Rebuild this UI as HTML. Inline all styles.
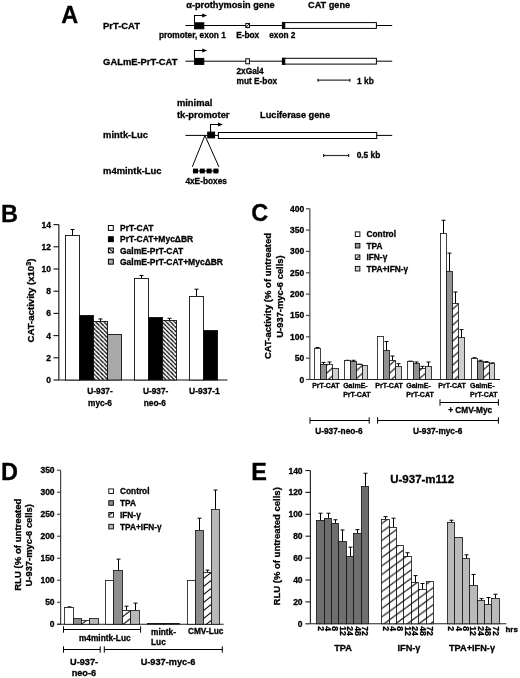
<!DOCTYPE html>
<html><head><meta charset="utf-8"><title>Figure</title>
<style>html,body{margin:0;padding:0;background:#fff;width:520px;height:678px;overflow:hidden}svg{display:block;filter:grayscale(1)}text{fill:#000;stroke:#000;stroke-width:0.3px}</style>
</head><body>
<svg width="520" height="678" viewBox="0 0 520 678" font-family='"Liberation Sans", sans-serif'><defs><pattern id="hb" patternUnits="userSpaceOnUse" x="0" y="2.15" width="4.15" height="4.15"><rect width="4.15" height="4.15" fill="#fff"/><path d="M0 0 L4.15 4.15 M0 -4.15 L4.15 0 M0 4.15 L4.15 8.3" stroke="#000" stroke-width="1.3" fill="none"/></pattern><pattern id="hc" patternUnits="userSpaceOnUse" x="0" y="7.5" width="9.0" height="8.0"><rect width="9.0" height="8.0" fill="#fff"/><path d="M0 8.0 L9.0 0 M0 0 L9.0 -8.0 M0 16.0 L9.0 8.0" stroke="#111" stroke-width="1.15" fill="none"/></pattern><pattern id="hd" patternUnits="userSpaceOnUse" x="0" y="7.0" width="10.4" height="8.0"><rect width="10.4" height="8.0" fill="#fff"/><path d="M0 8.0 L10.4 0 M0 0 L10.4 -8.0 M0 16.0 L10.4 8.0" stroke="#111" stroke-width="1.15" fill="none"/></pattern><pattern id="he" patternUnits="userSpaceOnUse" x="0" y="4.2" width="11.6" height="8.5"><rect width="11.6" height="8.5" fill="#fff"/><path d="M0 8.5 L11.6 0 M0 0 L11.6 -8.5 M0 17.0 L11.6 8.5" stroke="#111" stroke-width="1.2" fill="none"/></pattern></defs><text x="61.2" y="23.2" font-size="23.5" text-anchor="start" font-weight="bold">A</text>
<text x="1.0" y="221.5" font-size="23.5" text-anchor="start" font-weight="bold">B</text>
<text x="251.2" y="221.3" font-size="23.5" text-anchor="start" font-weight="bold">C</text>
<text x="1.0" y="479.8" font-size="23.5" text-anchor="start" font-weight="bold">D</text>
<text x="251.3" y="479.8" font-size="23.5" text-anchor="start" font-weight="bold">E</text>
<text x="103.1" y="29.0" font-size="9.4" text-anchor="start" font-weight="bold">PrT-CAT</text>
<line x1="185.4" y1="25.5" x2="392.2" y2="25.5" stroke="#000" stroke-width="1"/>
<rect x="194.6" y="22.8" width="9.2" height="6.0" fill="#000" stroke="#000" stroke-width="1"/>
<path d="M194.5 22.8 V15.5 H203.2" fill="none" stroke="#000" stroke-width="1.05"/>
<path d="M202.2 13.6 L207.2 15.5 L202.2 17.4 Z" fill="#000"/>
<rect x="245.8" y="23.4" width="3.6" height="4.2" fill="#fff" stroke="#000" stroke-width="1"/>
<line x1="246.0" y1="27.4" x2="249.2" y2="23.6" stroke="#000" stroke-width="0.9"/>
<rect x="282.4" y="22.4" width="2.4" height="6.2" fill="#000" stroke="#000" stroke-width="1"/>
<rect x="284.8" y="22.6" width="91.6" height="5.8" fill="#fff" stroke="#000" stroke-width="1"/>
<text x="186.3" y="8.3" font-size="9.2" text-anchor="start" font-weight="bold">&#945;-prothymosin gene</text>
<text x="308.0" y="8.4" font-size="9.2" text-anchor="start" font-weight="bold">CAT gene</text>
<text x="159.0" y="37.9" font-size="8.3" text-anchor="start" font-weight="bold">promoter, exon 1</text>
<text x="236.2" y="37.9" font-size="8.3" text-anchor="start" font-weight="bold">E-box</text>
<text x="269.2" y="37.9" font-size="8.3" text-anchor="start" font-weight="bold">exon 2</text>
<text x="103.1" y="64.5" font-size="9.4" text-anchor="start" font-weight="bold">GALmE-PrT-CAT</text>
<line x1="185.4" y1="61.2" x2="392.2" y2="61.2" stroke="#000" stroke-width="1"/>
<rect x="194.6" y="58.4" width="9.2" height="6.0" fill="#000" stroke="#000" stroke-width="1"/>
<path d="M194.5 58.4 V50.5 H203.2" fill="none" stroke="#000" stroke-width="1.05"/>
<path d="M202.2 48.6 L207.2 50.5 L202.2 52.4 Z" fill="#000"/>
<rect x="245.8" y="58.8" width="3.6" height="5.0" fill="#fff" stroke="#000" stroke-width="1"/>
<rect x="282.4" y="58.2" width="2.4" height="6.2" fill="#000" stroke="#000" stroke-width="1"/>
<rect x="284.8" y="58.3" width="91.6" height="5.8" fill="#fff" stroke="#000" stroke-width="1"/>
<text x="236.5" y="73.8" font-size="8.3" text-anchor="start" font-weight="bold">2xGal4</text>
<text x="236.5" y="83.7" font-size="8.3" text-anchor="start" font-weight="bold">mut E-box</text>
<line x1="317.8" y1="80.2" x2="350.1" y2="80.2" stroke="#333" stroke-width="1.2"/>
<line x1="318.0" y1="78.8" x2="318.0" y2="81.8" stroke="#000" stroke-width="1"/>
<line x1="349.9" y1="78.8" x2="349.9" y2="81.8" stroke="#000" stroke-width="1"/>
<text x="357.1" y="83.7" font-size="8.3" text-anchor="start" font-weight="bold">1 kb</text>
<text x="103.1" y="138.3" font-size="9.4" text-anchor="start" font-weight="bold">mintk-Luc</text>
<text x="103.1" y="173.8" font-size="9.4" text-anchor="start" font-weight="bold">m4mintk-Luc</text>
<text x="176.9" y="106.2" font-size="9.4" text-anchor="start" font-weight="bold">minimal</text>
<text x="176.9" y="117.7" font-size="9.4" text-anchor="start" font-weight="bold">tk-promoter</text>
<text x="260.1" y="117.9" font-size="9.2" text-anchor="start" font-weight="bold">Luciferase gene</text>
<line x1="185.4" y1="135.4" x2="392.2" y2="135.4" stroke="#000" stroke-width="1"/>
<rect x="207.7" y="132.1" width="6.9" height="5.8" fill="#000" stroke="#000" stroke-width="1"/>
<path d="M210.5 132.1 V124.5 H219.0" fill="none" stroke="#000" stroke-width="1.05"/>
<path d="M218.0 122.6 L223.0 124.5 L218.0 126.4 Z" fill="#000"/>
<rect x="218.4" y="132.5" width="158.3" height="6.0" fill="#fff" stroke="#000" stroke-width="1"/>
<path d="M192.3 166.8 L204.9 135.5 L218.9 166.8" fill="none" stroke="#000" stroke-width="1"/>
<line x1="192.8" y1="171.0" x2="218.9" y2="171.0" stroke="#000" stroke-width="1"/>
<rect x="193.0" y="168.6" width="5.0" height="4.8" fill="#000" stroke="#000" stroke-width="0"/>
<rect x="199.8" y="168.6" width="5.0" height="4.8" fill="#000" stroke="#000" stroke-width="0"/>
<rect x="206.6" y="168.6" width="5.0" height="4.8" fill="#000" stroke="#000" stroke-width="0"/>
<rect x="213.4" y="168.6" width="5.0" height="4.8" fill="#000" stroke="#000" stroke-width="0"/>
<text x="185.4" y="184.2" font-size="8.3" text-anchor="start" font-weight="bold">4xE-boxes</text>
<line x1="323.5" y1="155.5" x2="348.9" y2="155.5" stroke="#333" stroke-width="1.2"/>
<line x1="323.7" y1="154.0" x2="323.7" y2="157.0" stroke="#000" stroke-width="1"/>
<line x1="348.7" y1="154.0" x2="348.7" y2="157.0" stroke="#000" stroke-width="1"/>
<text x="356.7" y="158.3" font-size="8.3" text-anchor="start" font-weight="bold">0.5 kb</text>
<line x1="58.85" y1="224.6" x2="58.85" y2="380.0" stroke="#111" stroke-width="1.1"/>
<line x1="53.45" y1="380.0" x2="58.85" y2="380.0" stroke="#111" stroke-width="1.1"/>
<text x="51.0" y="383.0" font-size="8.5" text-anchor="end" font-weight="bold">0</text>
<line x1="53.45" y1="357.8" x2="58.85" y2="357.8" stroke="#111" stroke-width="1.1"/>
<text x="51.0" y="360.8" font-size="8.5" text-anchor="end" font-weight="bold">2</text>
<line x1="53.45" y1="335.6" x2="58.85" y2="335.6" stroke="#111" stroke-width="1.1"/>
<text x="51.0" y="338.6" font-size="8.5" text-anchor="end" font-weight="bold">4</text>
<line x1="53.45" y1="313.4" x2="58.85" y2="313.4" stroke="#111" stroke-width="1.1"/>
<text x="51.0" y="316.4" font-size="8.5" text-anchor="end" font-weight="bold">6</text>
<line x1="53.45" y1="291.2" x2="58.85" y2="291.2" stroke="#111" stroke-width="1.1"/>
<text x="51.0" y="294.2" font-size="8.5" text-anchor="end" font-weight="bold">8</text>
<line x1="53.45" y1="269.0" x2="58.85" y2="269.0" stroke="#111" stroke-width="1.1"/>
<text x="51.0" y="272.0" font-size="8.5" text-anchor="end" font-weight="bold">10</text>
<line x1="53.45" y1="246.8" x2="58.85" y2="246.8" stroke="#111" stroke-width="1.1"/>
<text x="51.0" y="249.8" font-size="8.5" text-anchor="end" font-weight="bold">12</text>
<line x1="53.45" y1="224.6" x2="58.85" y2="224.6" stroke="#111" stroke-width="1.1"/>
<text x="51.0" y="227.6" font-size="8.5" text-anchor="end" font-weight="bold">14</text>
<line x1="58.85" y1="380.0" x2="227.5" y2="380.0" stroke="#111" stroke-width="1.1"/>
<line x1="72.5" y1="229.484" x2="72.5" y2="235.5" stroke="#000" stroke-width="1.0"/>
<line x1="70.5" y1="229.484" x2="74.5" y2="229.484" stroke="#000" stroke-width="1.0"/>
<rect x="65.5" y="235.5" width="14.0" height="144.5" fill="#fff" stroke="#111" stroke-width="0.9"/>
<rect x="79.5" y="315.5" width="14.0" height="64.5" fill="#000" stroke="#111" stroke-width="0.9"/>
<line x1="100.5" y1="318.95" x2="100.5" y2="321.5" stroke="#000" stroke-width="1.0"/>
<line x1="98.5" y1="318.95" x2="102.5" y2="318.95" stroke="#000" stroke-width="1.0"/>
<rect x="93.5" y="321.5" width="14.0" height="58.5" fill="url(#hb)" stroke="#111" stroke-width="0.9"/>
<rect x="107.5" y="334.5" width="14.0" height="45.5" fill="#a8a8a8" stroke="#111" stroke-width="0.9"/>
<line x1="141.5" y1="275.549" x2="141.5" y2="278.5" stroke="#000" stroke-width="1.0"/>
<line x1="139.5" y1="275.549" x2="143.5" y2="275.549" stroke="#000" stroke-width="1.0"/>
<rect x="134.5" y="278.5" width="14.0" height="101.5" fill="#fff" stroke="#111" stroke-width="0.9"/>
<rect x="148.5" y="317.5" width="14.0" height="62.5" fill="#000" stroke="#111" stroke-width="0.9"/>
<line x1="169.5" y1="318.284" x2="169.5" y2="320.5" stroke="#000" stroke-width="1.0"/>
<line x1="167.5" y1="318.284" x2="171.5" y2="318.284" stroke="#000" stroke-width="1.0"/>
<rect x="162.5" y="320.5" width="14.0" height="59.5" fill="url(#hb)" stroke="#111" stroke-width="0.9"/>
<line x1="196.5" y1="289.202" x2="196.5" y2="296.5" stroke="#000" stroke-width="1.0"/>
<line x1="194.5" y1="289.202" x2="198.5" y2="289.202" stroke="#000" stroke-width="1.0"/>
<rect x="189.5" y="296.5" width="14.0" height="83.5" fill="#fff" stroke="#111" stroke-width="0.9"/>
<rect x="203.5" y="330.5" width="14.0" height="49.5" fill="#000" stroke="#111" stroke-width="0.9"/>
<rect x="108.4" y="225.5" width="4.9" height="4.9" fill="#fff" stroke="#000" stroke-width="1.0"/>
<text x="120.0" y="231.0" font-size="8.5" text-anchor="start" font-weight="bold">PrT-CAT</text>
<rect x="108.4" y="236.75" width="4.9" height="4.9" fill="#000" stroke="#000" stroke-width="1.0"/>
<text x="120.0" y="242.25" font-size="8.5" text-anchor="start" font-weight="bold">PrT-CAT+Myc&#916;BR</text>
<rect x="108.4" y="248.0" width="4.9" height="4.9" fill="url(#hb)" stroke="#000" stroke-width="1.0"/>
<text x="120.0" y="253.5" font-size="8.5" text-anchor="start" font-weight="bold">GalmE-PrT-CAT</text>
<rect x="108.4" y="259.25" width="4.9" height="4.9" fill="#a8a8a8" stroke="#000" stroke-width="1.0"/>
<text x="120.0" y="264.75" font-size="8.5" text-anchor="start" font-weight="bold">GalmE-PrT-CAT+Myc&#916;BR</text>
<text x="100.0" y="394.0" font-size="8.3" text-anchor="middle" font-weight="bold">U-937-</text>
<text x="100.0" y="405.5" font-size="8.3" text-anchor="middle" font-weight="bold">myc-6</text>
<text x="155.6" y="394.0" font-size="8.3" text-anchor="middle" font-weight="bold">U-937-</text>
<text x="154.8" y="405.5" font-size="8.3" text-anchor="middle" font-weight="bold">neo-6</text>
<text x="204.4" y="394.0" font-size="8.5" text-anchor="middle" font-weight="bold">U-937-1</text>
<text x="34.3" y="300.5" font-size="9.6" text-anchor="middle" font-weight="bold" transform="rotate(-90 34.3 300.5)">CAT-activity (x10<tspan dy="-3.3" font-size="7.2">3</tspan><tspan dy="3.3">)</tspan></text>
<line x1="309.85" y1="208.74" x2="309.85" y2="379.5" stroke="#444" stroke-width="1.2"/>
<line x1="306.05" y1="379.5" x2="309.85" y2="379.5" stroke="#444" stroke-width="1.2"/>
<text x="304.2" y="382.5" font-size="8.5" text-anchor="end" font-weight="bold">0</text>
<line x1="306.05" y1="358.155" x2="309.85" y2="358.155" stroke="#444" stroke-width="1.2"/>
<text x="304.2" y="361.155" font-size="8.5" text-anchor="end" font-weight="bold">50</text>
<line x1="306.05" y1="336.81" x2="309.85" y2="336.81" stroke="#444" stroke-width="1.2"/>
<text x="304.2" y="339.81" font-size="8.5" text-anchor="end" font-weight="bold">100</text>
<line x1="306.05" y1="315.46500000000003" x2="309.85" y2="315.46500000000003" stroke="#444" stroke-width="1.2"/>
<text x="304.2" y="318.46500000000003" font-size="8.5" text-anchor="end" font-weight="bold">150</text>
<line x1="306.05" y1="294.12" x2="309.85" y2="294.12" stroke="#444" stroke-width="1.2"/>
<text x="304.2" y="297.12" font-size="8.5" text-anchor="end" font-weight="bold">200</text>
<line x1="306.05" y1="272.775" x2="309.85" y2="272.775" stroke="#444" stroke-width="1.2"/>
<text x="304.2" y="275.775" font-size="8.5" text-anchor="end" font-weight="bold">250</text>
<line x1="306.05" y1="251.43" x2="309.85" y2="251.43" stroke="#444" stroke-width="1.2"/>
<text x="304.2" y="254.43" font-size="8.5" text-anchor="end" font-weight="bold">300</text>
<line x1="306.05" y1="230.085" x2="309.85" y2="230.085" stroke="#444" stroke-width="1.2"/>
<text x="304.2" y="233.085" font-size="8.5" text-anchor="end" font-weight="bold">350</text>
<line x1="306.05" y1="208.74" x2="309.85" y2="208.74" stroke="#444" stroke-width="1.2"/>
<text x="304.2" y="211.74" font-size="8.5" text-anchor="end" font-weight="bold">400</text>
<line x1="309.85" y1="379.5" x2="500.0" y2="379.5" stroke="#222" stroke-width="1.1"/>
<line x1="317.5" y1="347.4825" x2="317.5" y2="348.5" stroke="#000" stroke-width="1.0"/>
<line x1="315.5" y1="347.4825" x2="319.5" y2="347.4825" stroke="#000" stroke-width="1.0"/>
<rect x="314.5" y="348.5" width="6.0" height="31.0" fill="#fff" stroke="#111" stroke-width="0.8"/>
<line x1="323.5" y1="362.424" x2="323.5" y2="364.5" stroke="#000" stroke-width="1.0"/>
<line x1="321.5" y1="362.424" x2="325.5" y2="362.424" stroke="#000" stroke-width="1.0"/>
<rect x="320.5" y="364.5" width="6.0" height="15.0" fill="#919191" stroke="#111" stroke-width="0.8"/>
<line x1="329.5" y1="361.9971" x2="329.5" y2="364.5" stroke="#000" stroke-width="1.0"/>
<line x1="327.5" y1="361.9971" x2="331.5" y2="361.9971" stroke="#000" stroke-width="1.0"/>
<rect x="326.5" y="364.5" width="6.0" height="15.0" fill="url(#hc)" stroke="#111" stroke-width="0.8"/>
<rect x="332.5" y="368.5" width="6.0" height="11.0" fill="#d0d0d0" stroke="#111" stroke-width="0.8"/>
<line x1="347.5" y1="360.2895" x2="347.5" y2="360.5" stroke="#000" stroke-width="1.0"/>
<line x1="345.5" y1="360.2895" x2="349.5" y2="360.2895" stroke="#000" stroke-width="1.0"/>
<rect x="344.5" y="360.5" width="6.0" height="19.0" fill="#fff" stroke="#111" stroke-width="0.8"/>
<line x1="353.5" y1="360.2895" x2="353.5" y2="361.5" stroke="#000" stroke-width="1.0"/>
<line x1="351.5" y1="360.2895" x2="355.5" y2="360.2895" stroke="#000" stroke-width="1.0"/>
<rect x="350.5" y="361.5" width="6.0" height="18.0" fill="#919191" stroke="#111" stroke-width="0.8"/>
<line x1="359.5" y1="364.1316" x2="359.5" y2="364.5" stroke="#000" stroke-width="1.0"/>
<line x1="357.5" y1="364.1316" x2="361.5" y2="364.1316" stroke="#000" stroke-width="1.0"/>
<rect x="356.5" y="364.5" width="6.0" height="15.0" fill="url(#hc)" stroke="#111" stroke-width="0.8"/>
<rect x="362.5" y="365.5" width="5.0" height="14.0" fill="#d0d0d0" stroke="#111" stroke-width="0.8"/>
<rect x="377.5" y="336.5" width="6.0" height="43.0" fill="#fff" stroke="#111" stroke-width="0.8"/>
<line x1="386.5" y1="341.5059" x2="386.5" y2="350.5" stroke="#000" stroke-width="1.0"/>
<line x1="384.5" y1="341.5059" x2="388.5" y2="341.5059" stroke="#000" stroke-width="1.0"/>
<rect x="383.5" y="350.5" width="6.0" height="29.0" fill="#919191" stroke="#111" stroke-width="0.8"/>
<line x1="392.5" y1="356.02049999999997" x2="392.5" y2="360.5" stroke="#000" stroke-width="1.0"/>
<line x1="390.5" y1="356.02049999999997" x2="394.5" y2="356.02049999999997" stroke="#000" stroke-width="1.0"/>
<rect x="389.5" y="360.5" width="6.0" height="19.0" fill="url(#hc)" stroke="#111" stroke-width="0.8"/>
<line x1="398.5" y1="363.7047" x2="398.5" y2="366.5" stroke="#000" stroke-width="1.0"/>
<line x1="396.5" y1="363.7047" x2="400.5" y2="363.7047" stroke="#000" stroke-width="1.0"/>
<rect x="395.5" y="366.5" width="6.0" height="13.0" fill="#d0d0d0" stroke="#111" stroke-width="0.8"/>
<line x1="410.5" y1="361.1433" x2="410.5" y2="361.5" stroke="#000" stroke-width="1.0"/>
<line x1="408.5" y1="361.1433" x2="412.5" y2="361.1433" stroke="#000" stroke-width="1.0"/>
<rect x="407.5" y="361.5" width="6.0" height="18.0" fill="#fff" stroke="#111" stroke-width="0.8"/>
<line x1="416.5" y1="361.9971" x2="416.5" y2="363.5" stroke="#000" stroke-width="1.0"/>
<line x1="414.5" y1="361.9971" x2="418.5" y2="361.9971" stroke="#000" stroke-width="1.0"/>
<rect x="413.5" y="363.5" width="6.0" height="16.0" fill="#919191" stroke="#111" stroke-width="0.8"/>
<line x1="422.5" y1="366.2661" x2="422.5" y2="368.5" stroke="#000" stroke-width="1.0"/>
<line x1="420.5" y1="366.2661" x2="424.5" y2="366.2661" stroke="#000" stroke-width="1.0"/>
<rect x="419.5" y="368.5" width="6.0" height="11.0" fill="url(#hc)" stroke="#111" stroke-width="0.8"/>
<line x1="428.5" y1="361.9971" x2="428.5" y2="366.5" stroke="#000" stroke-width="1.0"/>
<line x1="426.5" y1="361.9971" x2="430.5" y2="361.9971" stroke="#000" stroke-width="1.0"/>
<rect x="425.5" y="366.5" width="6.0" height="13.0" fill="#d0d0d0" stroke="#111" stroke-width="0.8"/>
<line x1="443.5" y1="220.2663" x2="443.5" y2="233.5" stroke="#000" stroke-width="1.0"/>
<line x1="441.5" y1="220.2663" x2="445.5" y2="220.2663" stroke="#000" stroke-width="1.0"/>
<rect x="440.5" y="233.5" width="6.0" height="146.0" fill="#fff" stroke="#111" stroke-width="0.8"/>
<line x1="449.5" y1="253.13760000000002" x2="449.5" y2="271.5" stroke="#000" stroke-width="1.0"/>
<line x1="447.5" y1="253.13760000000002" x2="451.5" y2="253.13760000000002" stroke="#000" stroke-width="1.0"/>
<rect x="446.5" y="271.5" width="6.0" height="108.0" fill="#919191" stroke="#111" stroke-width="0.8"/>
<line x1="455.5" y1="291.9855" x2="455.5" y2="303.5" stroke="#000" stroke-width="1.0"/>
<line x1="453.5" y1="291.9855" x2="457.5" y2="291.9855" stroke="#000" stroke-width="1.0"/>
<rect x="452.5" y="303.5" width="6.0" height="76.0" fill="url(#hc)" stroke="#111" stroke-width="0.8"/>
<line x1="461.5" y1="329.5527" x2="461.5" y2="337.5" stroke="#000" stroke-width="1.0"/>
<line x1="459.5" y1="329.5527" x2="463.5" y2="329.5527" stroke="#000" stroke-width="1.0"/>
<rect x="458.5" y="337.5" width="6.0" height="42.0" fill="#d0d0d0" stroke="#111" stroke-width="0.8"/>
<line x1="474.5" y1="357.7281" x2="474.5" y2="358.5" stroke="#000" stroke-width="1.0"/>
<line x1="472.5" y1="357.7281" x2="476.5" y2="357.7281" stroke="#000" stroke-width="1.0"/>
<rect x="471.5" y="358.5" width="6.0" height="21.0" fill="#fff" stroke="#111" stroke-width="0.8"/>
<line x1="480.5" y1="360.2895" x2="480.5" y2="361.5" stroke="#000" stroke-width="1.0"/>
<line x1="478.5" y1="360.2895" x2="482.5" y2="360.2895" stroke="#000" stroke-width="1.0"/>
<rect x="477.5" y="361.5" width="6.0" height="18.0" fill="#919191" stroke="#111" stroke-width="0.8"/>
<line x1="486.5" y1="361.5702" x2="486.5" y2="362.5" stroke="#000" stroke-width="1.0"/>
<line x1="484.5" y1="361.5702" x2="488.5" y2="361.5702" stroke="#000" stroke-width="1.0"/>
<rect x="483.5" y="362.5" width="6.0" height="17.0" fill="url(#hc)" stroke="#111" stroke-width="0.8"/>
<line x1="492.5" y1="362.8509" x2="492.5" y2="363.5" stroke="#000" stroke-width="1.0"/>
<line x1="490.5" y1="362.8509" x2="494.5" y2="362.8509" stroke="#000" stroke-width="1.0"/>
<rect x="489.5" y="363.5" width="5.0" height="16.0" fill="#d0d0d0" stroke="#111" stroke-width="0.8"/>
<rect x="355.3" y="231.9" width="4.6" height="4.6" fill="#fff" stroke="#000" stroke-width="0.9"/>
<text x="366.5" y="237.3" font-size="8.3" text-anchor="start" font-weight="bold">Control</text>
<rect x="355.3" y="243.4" width="4.6" height="4.6" fill="#919191" stroke="#000" stroke-width="0.9"/>
<text x="366.5" y="248.8" font-size="8.3" text-anchor="start" font-weight="bold">TPA</text>
<rect x="355.3" y="254.9" width="4.6" height="4.6" fill="url(#hc)" stroke="#000" stroke-width="0.9"/>
<text x="366.5" y="260.3" font-size="8.3" text-anchor="start" font-weight="bold">IFN-&#947;</text>
<rect x="355.3" y="266.40000000000003" width="4.6" height="4.6" fill="#d0d0d0" stroke="#000" stroke-width="0.9"/>
<text x="366.5" y="271.8" font-size="8.3" text-anchor="start" font-weight="bold">TPA+IFN-&#947;</text>
<text x="325.90000000000003" y="388.3" font-size="7.0" text-anchor="middle" font-weight="bold">PrT-CAT</text>
<text x="389.0" y="388.3" font-size="7.0" text-anchor="middle" font-weight="bold">PrT-CAT</text>
<text x="452.1" y="388.3" font-size="7.0" text-anchor="middle" font-weight="bold">PrT-CAT</text>
<text x="355.4" y="388.3" font-size="7.0" text-anchor="middle" font-weight="bold">GalmE-</text>
<text x="356.9" y="396.8" font-size="7.0" text-anchor="middle" font-weight="bold">PrT-CAT</text>
<text x="418.5" y="388.3" font-size="7.0" text-anchor="middle" font-weight="bold">GalmE-</text>
<text x="420.0" y="396.8" font-size="7.0" text-anchor="middle" font-weight="bold">PrT-CAT</text>
<text x="482.3" y="388.3" font-size="7.0" text-anchor="middle" font-weight="bold">GalmE-</text>
<text x="483.8" y="396.8" font-size="7.0" text-anchor="middle" font-weight="bold">PrT-CAT</text>
<line x1="440.0" y1="402.5" x2="498.4" y2="402.5" stroke="#000" stroke-width="1"/>
<line x1="440.0" y1="399.3" x2="440.0" y2="405.7" stroke="#000" stroke-width="1"/>
<line x1="498.4" y1="399.3" x2="498.4" y2="405.7" stroke="#000" stroke-width="1"/>
<text x="470.2" y="413.4" font-size="8.3" text-anchor="middle" font-weight="bold">+ CMV-Myc</text>
<line x1="310.0" y1="420.5" x2="369.2" y2="420.5" stroke="#000" stroke-width="1"/>
<line x1="310.0" y1="417.3" x2="310.0" y2="423.7" stroke="#000" stroke-width="1"/>
<line x1="369.2" y1="417.3" x2="369.2" y2="423.7" stroke="#000" stroke-width="1"/>
<line x1="377.6" y1="420.5" x2="498.4" y2="420.5" stroke="#000" stroke-width="1"/>
<line x1="377.6" y1="417.3" x2="377.6" y2="423.7" stroke="#000" stroke-width="1"/>
<line x1="498.4" y1="417.3" x2="498.4" y2="423.7" stroke="#000" stroke-width="1"/>
<text x="339.0" y="434.3" font-size="8.3" text-anchor="middle" font-weight="bold">U-937-neo-6</text>
<text x="437.7" y="434.4" font-size="8.3" text-anchor="middle" font-weight="bold">U-937-myc-6</text>
<text x="271.3" y="296.0" font-size="9.5" text-anchor="middle" font-weight="bold" transform="rotate(-90 271.3 296.0)">CAT-activity (% of untreated</text>
<text x="283.1" y="296.5" font-size="9.4" text-anchor="middle" font-weight="bold" transform="rotate(-90 283.1 296.5)">U-937-myc-6 cells)</text>
<line x1="60.6" y1="470.25" x2="60.6" y2="624.25" stroke="#444" stroke-width="1.2"/>
<line x1="57.1" y1="624.25" x2="60.6" y2="624.25" stroke="#444" stroke-width="1.2"/>
<text x="54.6" y="627.25" font-size="8.5" text-anchor="end" font-weight="bold">0</text>
<line x1="57.1" y1="602.25" x2="60.6" y2="602.25" stroke="#444" stroke-width="1.2"/>
<text x="54.6" y="605.25" font-size="8.5" text-anchor="end" font-weight="bold">50</text>
<line x1="57.1" y1="580.25" x2="60.6" y2="580.25" stroke="#444" stroke-width="1.2"/>
<text x="54.6" y="583.25" font-size="8.5" text-anchor="end" font-weight="bold">100</text>
<line x1="57.1" y1="558.25" x2="60.6" y2="558.25" stroke="#444" stroke-width="1.2"/>
<text x="54.6" y="561.25" font-size="8.5" text-anchor="end" font-weight="bold">150</text>
<line x1="57.1" y1="536.25" x2="60.6" y2="536.25" stroke="#444" stroke-width="1.2"/>
<text x="54.6" y="539.25" font-size="8.5" text-anchor="end" font-weight="bold">200</text>
<line x1="57.1" y1="514.25" x2="60.6" y2="514.25" stroke="#444" stroke-width="1.2"/>
<text x="54.6" y="517.25" font-size="8.5" text-anchor="end" font-weight="bold">250</text>
<line x1="57.1" y1="492.25" x2="60.6" y2="492.25" stroke="#444" stroke-width="1.2"/>
<text x="54.6" y="495.25" font-size="8.5" text-anchor="end" font-weight="bold">300</text>
<line x1="57.1" y1="470.25" x2="60.6" y2="470.25" stroke="#444" stroke-width="1.2"/>
<text x="54.6" y="473.25" font-size="8.5" text-anchor="end" font-weight="bold">350</text>
<line x1="57.2" y1="624.25" x2="223.7" y2="624.25" stroke="#222" stroke-width="1.1"/>
<line x1="69.5" y1="606.87" x2="69.5" y2="607.5" stroke="#000" stroke-width="1.0"/>
<line x1="67.5" y1="606.87" x2="71.5" y2="606.87" stroke="#000" stroke-width="1.0"/>
<rect x="64.5" y="607.5" width="9.0" height="16.75" fill="#fff" stroke="#111" stroke-width="0.8"/>
<rect x="73.5" y="618.5" width="8.0" height="5.75" fill="#8e8e8e" stroke="#111" stroke-width="0.8"/>
<rect x="81.5" y="620.5" width="8.0" height="3.75" fill="url(#hd)" stroke="#111" stroke-width="0.8"/>
<rect x="89.5" y="618.5" width="9.0" height="5.75" fill="#b8b8b8" stroke="#111" stroke-width="0.8"/>
<rect x="105.5" y="580.5" width="8.0" height="43.75" fill="#fff" stroke="#111" stroke-width="0.8"/>
<line x1="118.5" y1="559.13" x2="118.5" y2="570.5" stroke="#000" stroke-width="1.0"/>
<line x1="116.5" y1="559.13" x2="120.5" y2="559.13" stroke="#000" stroke-width="1.0"/>
<rect x="113.5" y="570.5" width="9.0" height="53.75" fill="#8e8e8e" stroke="#111" stroke-width="0.8"/>
<line x1="126.5" y1="606.21" x2="126.5" y2="610.5" stroke="#000" stroke-width="1.0"/>
<line x1="124.5" y1="606.21" x2="128.5" y2="606.21" stroke="#000" stroke-width="1.0"/>
<rect x="122.5" y="610.5" width="8.0" height="13.75" fill="url(#hd)" stroke="#111" stroke-width="0.8"/>
<line x1="135.5" y1="603.13" x2="135.5" y2="610.5" stroke="#000" stroke-width="1.0"/>
<line x1="133.5" y1="603.13" x2="137.5" y2="603.13" stroke="#000" stroke-width="1.0"/>
<rect x="130.5" y="610.5" width="9.0" height="13.75" fill="#b8b8b8" stroke="#111" stroke-width="0.8"/>
<rect x="147.5" y="623.5" width="8.0" height="0.75" fill="#fff" stroke="#111" stroke-width="0.8"/>
<rect x="155.5" y="623.5" width="8.0" height="0.75" fill="#8e8e8e" stroke="#111" stroke-width="0.8"/>
<rect x="163.5" y="623.5" width="8.0" height="0.75" fill="url(#hd)" stroke="#111" stroke-width="0.8"/>
<rect x="171.5" y="623.5" width="8.0" height="0.75" fill="#b8b8b8" stroke="#111" stroke-width="0.8"/>
<rect x="187.5" y="580.5" width="8.0" height="43.75" fill="#fff" stroke="#111" stroke-width="0.8"/>
<line x1="199.5" y1="518.21" x2="199.5" y2="530.5" stroke="#000" stroke-width="1.0"/>
<line x1="197.5" y1="518.21" x2="201.5" y2="518.21" stroke="#000" stroke-width="1.0"/>
<rect x="195.5" y="530.5" width="8.0" height="93.75" fill="#8e8e8e" stroke="#111" stroke-width="0.8"/>
<line x1="207.5" y1="570.13" x2="207.5" y2="572.5" stroke="#000" stroke-width="1.0"/>
<line x1="205.5" y1="570.13" x2="209.5" y2="570.13" stroke="#000" stroke-width="1.0"/>
<rect x="203.5" y="572.5" width="8.0" height="51.75" fill="url(#hd)" stroke="#111" stroke-width="0.8"/>
<line x1="215.5" y1="490.05" x2="215.5" y2="509.5" stroke="#000" stroke-width="1.0"/>
<line x1="213.5" y1="490.05" x2="217.5" y2="490.05" stroke="#000" stroke-width="1.0"/>
<rect x="211.5" y="509.5" width="8.0" height="114.75" fill="#b8b8b8" stroke="#111" stroke-width="0.8"/>
<rect x="108.8" y="488.90000000000003" width="4.6" height="4.6" fill="#fff" stroke="#000" stroke-width="0.9"/>
<text x="120.0" y="494.3" font-size="8.3" text-anchor="start" font-weight="bold">Control</text>
<rect x="108.8" y="500.70000000000005" width="4.6" height="4.6" fill="#8e8e8e" stroke="#000" stroke-width="0.9"/>
<text x="120.0" y="506.1" font-size="8.3" text-anchor="start" font-weight="bold">TPA</text>
<rect x="108.8" y="512.5" width="4.6" height="4.6" fill="url(#hd)" stroke="#000" stroke-width="0.9"/>
<text x="120.0" y="517.9" font-size="8.3" text-anchor="start" font-weight="bold">IFN-&#947;</text>
<rect x="108.8" y="524.3000000000001" width="4.6" height="4.6" fill="#b8b8b8" stroke="#000" stroke-width="0.9"/>
<text x="120.0" y="529.7" font-size="8.3" text-anchor="start" font-weight="bold">TPA+IFN-&#947;</text>
<line x1="63.5" y1="629.5" x2="140.6" y2="629.5" stroke="#000" stroke-width="1"/>
<line x1="63.5" y1="626.3" x2="63.5" y2="632.7" stroke="#000" stroke-width="1"/>
<line x1="140.6" y1="626.3" x2="140.6" y2="632.7" stroke="#000" stroke-width="1"/>
<text x="104.8" y="641.2" font-size="8.3" text-anchor="middle" font-weight="bold">m4mintk-Luc</text>
<text x="151.0" y="634.5" font-size="8.3" text-anchor="start" font-weight="bold">mintk-</text>
<text x="151.0" y="644.8" font-size="8.3" text-anchor="start" font-weight="bold">Luc</text>
<text x="205.7" y="634.0" font-size="8.3" text-anchor="middle" font-weight="bold">CMV-Luc</text>
<line x1="63.5" y1="649.5" x2="100.2" y2="649.5" stroke="#000" stroke-width="1"/>
<line x1="63.5" y1="646.3" x2="63.5" y2="652.7" stroke="#000" stroke-width="1"/>
<line x1="100.2" y1="646.3" x2="100.2" y2="652.7" stroke="#000" stroke-width="1"/>
<line x1="104.3" y1="649.5" x2="222.3" y2="649.5" stroke="#000" stroke-width="1"/>
<line x1="104.3" y1="646.3" x2="104.3" y2="652.7" stroke="#000" stroke-width="1"/>
<line x1="222.3" y1="646.3" x2="222.3" y2="652.7" stroke="#000" stroke-width="1"/>
<text x="84.1" y="664.8" font-size="9.2" text-anchor="middle" font-weight="bold">U-937-</text>
<text x="83.9" y="675.6" font-size="9.2" text-anchor="middle" font-weight="bold">neo-6</text>
<text x="168.0" y="664.8" font-size="9.2" text-anchor="middle" font-weight="bold">U-937-myc-6</text>
<text x="21.2" y="544.7" font-size="9.6" text-anchor="middle" font-weight="bold" transform="rotate(-90 21.2 544.7)">RLU (% of untreated</text>
<text x="31.6" y="545.3" font-size="9.4" text-anchor="middle" font-weight="bold" transform="rotate(-90 31.6 545.3)">U-937-myc-6 cells)</text>
<line x1="310.4" y1="470.5" x2="310.4" y2="623.8" stroke="#222" stroke-width="1.15"/>
<line x1="305.4" y1="623.8" x2="310.4" y2="623.8" stroke="#222" stroke-width="1.15"/>
<text x="302.6" y="626.8" font-size="8.5" text-anchor="end" font-weight="bold">0</text>
<line x1="305.4" y1="601.9" x2="310.4" y2="601.9" stroke="#222" stroke-width="1.15"/>
<text x="302.6" y="604.9" font-size="8.5" text-anchor="end" font-weight="bold">20</text>
<line x1="305.4" y1="580.0" x2="310.4" y2="580.0" stroke="#222" stroke-width="1.15"/>
<text x="302.6" y="583.0" font-size="8.5" text-anchor="end" font-weight="bold">40</text>
<line x1="305.4" y1="558.0999999999999" x2="310.4" y2="558.0999999999999" stroke="#222" stroke-width="1.15"/>
<text x="302.6" y="561.0999999999999" font-size="8.5" text-anchor="end" font-weight="bold">60</text>
<line x1="305.4" y1="536.1999999999999" x2="310.4" y2="536.1999999999999" stroke="#222" stroke-width="1.15"/>
<text x="302.6" y="539.1999999999999" font-size="8.5" text-anchor="end" font-weight="bold">80</text>
<line x1="305.4" y1="514.3" x2="310.4" y2="514.3" stroke="#222" stroke-width="1.15"/>
<text x="302.6" y="517.3" font-size="8.5" text-anchor="end" font-weight="bold">100</text>
<line x1="305.4" y1="492.4" x2="310.4" y2="492.4" stroke="#222" stroke-width="1.15"/>
<text x="302.6" y="495.4" font-size="8.5" text-anchor="end" font-weight="bold">120</text>
<line x1="305.4" y1="470.5" x2="310.4" y2="470.5" stroke="#222" stroke-width="1.15"/>
<text x="302.6" y="473.5" font-size="8.5" text-anchor="end" font-weight="bold">140</text>
<line x1="310.4" y1="623.8" x2="506.3" y2="623.8" stroke="#222" stroke-width="1.1"/>
<line x1="320.5" y1="513.2049999999999" x2="320.5" y2="520.5" stroke="#000" stroke-width="1.0"/>
<line x1="318.5" y1="513.2049999999999" x2="322.5" y2="513.2049999999999" stroke="#000" stroke-width="1.0"/>
<rect x="316.5" y="520.5" width="8.0" height="103.29999999999995" fill="#6e6e6e" stroke="#111" stroke-width="0.8"/>
<line x1="328.5" y1="513.2049999999999" x2="328.5" y2="518.5" stroke="#000" stroke-width="1.0"/>
<line x1="326.5" y1="513.2049999999999" x2="330.5" y2="513.2049999999999" stroke="#000" stroke-width="1.0"/>
<rect x="324.5" y="518.5" width="7.0" height="105.29999999999995" fill="#6e6e6e" stroke="#111" stroke-width="0.8"/>
<line x1="335.5" y1="519.775" x2="335.5" y2="523.5" stroke="#000" stroke-width="1.0"/>
<line x1="333.5" y1="519.775" x2="337.5" y2="519.775" stroke="#000" stroke-width="1.0"/>
<rect x="331.5" y="523.5" width="7.0" height="100.29999999999995" fill="#6e6e6e" stroke="#111" stroke-width="0.8"/>
<line x1="342.5" y1="529.9585" x2="342.5" y2="541.5" stroke="#000" stroke-width="1.0"/>
<line x1="340.5" y1="529.9585" x2="344.5" y2="529.9585" stroke="#000" stroke-width="1.0"/>
<rect x="338.5" y="541.5" width="8.0" height="82.29999999999995" fill="#6e6e6e" stroke="#111" stroke-width="0.8"/>
<line x1="350.5" y1="547.15" x2="350.5" y2="556.5" stroke="#000" stroke-width="1.0"/>
<line x1="348.5" y1="547.15" x2="352.5" y2="547.15" stroke="#000" stroke-width="1.0"/>
<rect x="346.5" y="556.5" width="7.0" height="67.29999999999995" fill="#6e6e6e" stroke="#111" stroke-width="0.8"/>
<line x1="357.5" y1="529.63" x2="357.5" y2="533.5" stroke="#000" stroke-width="1.0"/>
<line x1="355.5" y1="529.63" x2="359.5" y2="529.63" stroke="#000" stroke-width="1.0"/>
<rect x="353.5" y="533.5" width="8.0" height="90.29999999999995" fill="#6e6e6e" stroke="#111" stroke-width="0.8"/>
<line x1="365.5" y1="473.23749999999995" x2="365.5" y2="486.5" stroke="#000" stroke-width="1.0"/>
<line x1="363.5" y1="473.23749999999995" x2="367.5" y2="473.23749999999995" stroke="#000" stroke-width="1.0"/>
<rect x="361.5" y="486.5" width="7.0" height="137.29999999999995" fill="#6e6e6e" stroke="#111" stroke-width="0.8"/>
<text x="317.515" y="626.2" font-size="8.6" text-anchor="start" font-weight="bold" transform="rotate(90 317.515 626.2)">2</text>
<text x="324.945" y="626.2" font-size="8.6" text-anchor="start" font-weight="bold" transform="rotate(90 324.945 626.2)">4</text>
<text x="332.375" y="626.2" font-size="8.6" text-anchor="start" font-weight="bold" transform="rotate(90 332.375 626.2)">8</text>
<text x="339.805" y="626.2" font-size="8.6" text-anchor="start" font-weight="bold" transform="rotate(90 339.805 626.2)">12</text>
<text x="347.23499999999996" y="626.2" font-size="8.6" text-anchor="start" font-weight="bold" transform="rotate(90 347.23499999999996 626.2)">24</text>
<text x="354.66499999999996" y="626.2" font-size="8.6" text-anchor="start" font-weight="bold" transform="rotate(90 354.66499999999996 626.2)">48</text>
<text x="362.09499999999997" y="626.2" font-size="8.6" text-anchor="start" font-weight="bold" transform="rotate(90 362.09499999999997 626.2)">72</text>
<line x1="385.5" y1="516.5994999999999" x2="385.5" y2="519.5" stroke="#000" stroke-width="1.0"/>
<line x1="383.5" y1="516.5994999999999" x2="387.5" y2="516.5994999999999" stroke="#000" stroke-width="1.0"/>
<rect x="381.5" y="519.5" width="8.0" height="104.29999999999995" fill="url(#he)" stroke="#111" stroke-width="0.8"/>
<line x1="393.5" y1="518.242" x2="393.5" y2="527.5" stroke="#000" stroke-width="1.0"/>
<line x1="391.5" y1="518.242" x2="395.5" y2="518.242" stroke="#000" stroke-width="1.0"/>
<rect x="389.5" y="527.5" width="7.0" height="96.29999999999995" fill="url(#he)" stroke="#111" stroke-width="0.8"/>
<rect x="396.5" y="545.5" width="7.0" height="78.29999999999995" fill="url(#he)" stroke="#111" stroke-width="0.8"/>
<line x1="407.5" y1="552.7344999999999" x2="407.5" y2="556.5" stroke="#000" stroke-width="1.0"/>
<line x1="405.5" y1="552.7344999999999" x2="409.5" y2="552.7344999999999" stroke="#000" stroke-width="1.0"/>
<rect x="403.5" y="556.5" width="8.0" height="67.29999999999995" fill="url(#he)" stroke="#111" stroke-width="0.8"/>
<line x1="415.5" y1="575.62" x2="415.5" y2="582.5" stroke="#000" stroke-width="1.0"/>
<line x1="413.5" y1="575.62" x2="417.5" y2="575.62" stroke="#000" stroke-width="1.0"/>
<rect x="411.5" y="582.5" width="7.0" height="41.299999999999955" fill="url(#he)" stroke="#111" stroke-width="0.8"/>
<line x1="422.5" y1="583.5039999999999" x2="422.5" y2="589.5" stroke="#000" stroke-width="1.0"/>
<line x1="420.5" y1="583.5039999999999" x2="424.5" y2="583.5039999999999" stroke="#000" stroke-width="1.0"/>
<rect x="418.5" y="589.5" width="8.0" height="34.299999999999955" fill="url(#he)" stroke="#111" stroke-width="0.8"/>
<rect x="426.5" y="581.5" width="7.0" height="42.299999999999955" fill="url(#he)" stroke="#111" stroke-width="0.8"/>
<text x="382.515" y="626.2" font-size="8.6" text-anchor="start" font-weight="bold" transform="rotate(90 382.515 626.2)">2</text>
<text x="389.945" y="626.2" font-size="8.6" text-anchor="start" font-weight="bold" transform="rotate(90 389.945 626.2)">4</text>
<text x="397.375" y="626.2" font-size="8.6" text-anchor="start" font-weight="bold" transform="rotate(90 397.375 626.2)">8</text>
<text x="404.805" y="626.2" font-size="8.6" text-anchor="start" font-weight="bold" transform="rotate(90 404.805 626.2)">12</text>
<text x="412.23499999999996" y="626.2" font-size="8.6" text-anchor="start" font-weight="bold" transform="rotate(90 412.23499999999996 626.2)">24</text>
<text x="419.66499999999996" y="626.2" font-size="8.6" text-anchor="start" font-weight="bold" transform="rotate(90 419.66499999999996 626.2)">48</text>
<text x="427.09499999999997" y="626.2" font-size="8.6" text-anchor="start" font-weight="bold" transform="rotate(90 427.09499999999997 626.2)">72</text>
<line x1="451.5" y1="520.213" x2="451.5" y2="522.5" stroke="#000" stroke-width="1.0"/>
<line x1="449.5" y1="520.213" x2="453.5" y2="520.213" stroke="#000" stroke-width="1.0"/>
<rect x="447.5" y="522.5" width="7.0" height="101.29999999999995" fill="#bababa" stroke="#111" stroke-width="0.8"/>
<rect x="454.5" y="537.5" width="8.0" height="86.29999999999995" fill="#bababa" stroke="#111" stroke-width="0.8"/>
<line x1="466.5" y1="554.8149999999999" x2="466.5" y2="558.5" stroke="#000" stroke-width="1.0"/>
<line x1="464.5" y1="554.8149999999999" x2="468.5" y2="554.8149999999999" stroke="#000" stroke-width="1.0"/>
<rect x="462.5" y="558.5" width="7.0" height="65.29999999999995" fill="#bababa" stroke="#111" stroke-width="0.8"/>
<line x1="473.5" y1="574.525" x2="473.5" y2="585.5" stroke="#000" stroke-width="1.0"/>
<line x1="471.5" y1="574.525" x2="475.5" y2="574.525" stroke="#000" stroke-width="1.0"/>
<rect x="469.5" y="585.5" width="8.0" height="38.299999999999955" fill="#bababa" stroke="#111" stroke-width="0.8"/>
<line x1="481.5" y1="598.615" x2="481.5" y2="600.5" stroke="#000" stroke-width="1.0"/>
<line x1="479.5" y1="598.615" x2="483.5" y2="598.615" stroke="#000" stroke-width="1.0"/>
<rect x="477.5" y="600.5" width="7.0" height="23.299999999999955" fill="#bababa" stroke="#111" stroke-width="0.8"/>
<line x1="488.5" y1="597.52" x2="488.5" y2="604.5" stroke="#000" stroke-width="1.0"/>
<line x1="486.5" y1="597.52" x2="490.5" y2="597.52" stroke="#000" stroke-width="1.0"/>
<rect x="484.5" y="604.5" width="7.0" height="19.299999999999955" fill="#bababa" stroke="#111" stroke-width="0.8"/>
<line x1="495.5" y1="594.2349999999999" x2="495.5" y2="598.5" stroke="#000" stroke-width="1.0"/>
<line x1="493.5" y1="594.2349999999999" x2="497.5" y2="594.2349999999999" stroke="#000" stroke-width="1.0"/>
<rect x="491.5" y="598.5" width="8.0" height="25.299999999999955" fill="#bababa" stroke="#111" stroke-width="0.8"/>
<text x="448.115" y="626.2" font-size="8.6" text-anchor="start" font-weight="bold" transform="rotate(90 448.115 626.2)">2</text>
<text x="455.545" y="626.2" font-size="8.6" text-anchor="start" font-weight="bold" transform="rotate(90 455.545 626.2)">4</text>
<text x="462.975" y="626.2" font-size="8.6" text-anchor="start" font-weight="bold" transform="rotate(90 462.975 626.2)">8</text>
<text x="470.40500000000003" y="626.2" font-size="8.6" text-anchor="start" font-weight="bold" transform="rotate(90 470.40500000000003 626.2)">12</text>
<text x="477.835" y="626.2" font-size="8.6" text-anchor="start" font-weight="bold" transform="rotate(90 477.835 626.2)">24</text>
<text x="485.265" y="626.2" font-size="8.6" text-anchor="start" font-weight="bold" transform="rotate(90 485.265 626.2)">48</text>
<text x="492.695" y="626.2" font-size="8.6" text-anchor="start" font-weight="bold" transform="rotate(90 492.695 626.2)">72</text>
<text x="343.0" y="651.0" font-size="9.2" text-anchor="middle" font-weight="bold">TPA</text>
<text x="409.0" y="651.0" font-size="9.2" text-anchor="middle" font-weight="bold">IFN-&#947;</text>
<text x="472.0" y="651.0" font-size="9.2" text-anchor="middle" font-weight="bold">TPA+IFN-&#947;</text>
<text x="505.4" y="632.0" font-size="8.0" text-anchor="start" font-weight="bold">hrs</text>
<text x="422.2" y="482.9" font-size="11.5" text-anchor="middle" font-weight="bold">U-937-m112</text>
<text x="280.0" y="546.3" font-size="9.5" text-anchor="middle" font-weight="bold" transform="rotate(-90 280.0 546.3)">RLU (% of untreated cells)</text></svg>
</body></html>
